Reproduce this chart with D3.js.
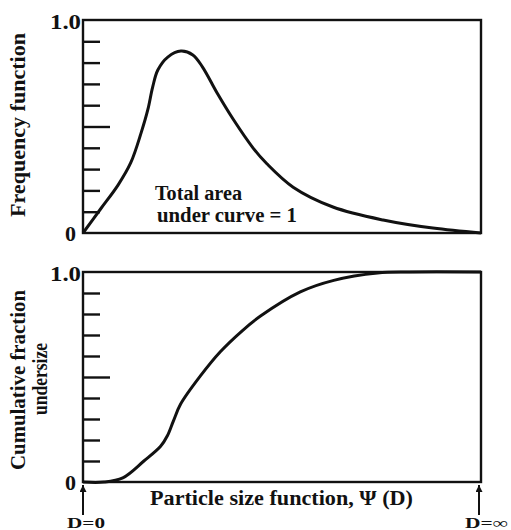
<!DOCTYPE html>
<html><head><meta charset="utf-8">
<script src="https://cdn.jsdelivr.net/npm/d3@7"></script>
<style>
body{margin:0;background:#fff;}
svg text{font-family:"Liberation Serif","Times New Roman",serif;font-weight:bold;fill:#111;}
</style></head>
<body><svg id="c" width="511" height="530"></svg>
<script>
// Top panel: frequency function (x = normalized particle size function)
const freqX = [0, 0.045, 0.088, 0.12, 0.146, 0.163, 0.175, 0.188, 0.213, 0.246, 0.276, 0.30, 0.337, 0.377, 0.427, 0.462, 0.528, 0.628, 0.754, 0.879, 1.0];
const freqY = [0, 0.115, 0.225, 0.33, 0.47, 0.58, 0.685, 0.765, 0.826, 0.854, 0.836, 0.78, 0.657, 0.535, 0.40, 0.325, 0.215, 0.122, 0.061, 0.023, 0];
// Bottom panel: cumulative fraction undersize
const cumX = [0, 0.053, 0.10, 0.153, 0.195, 0.212, 0.227, 0.245, 0.295, 0.345, 0.40, 0.446, 0.546, 0.63, 0.74, 0.82, 1.0];
const cumY = [0, 0, 0.02, 0.10, 0.17, 0.22, 0.29, 0.37, 0.505, 0.62, 0.72, 0.79, 0.905, 0.96, 0.995, 1.0, 1.0];
const minorTicks = [0.1, 0.2, 0.3, 0.4, 0.5, 0.6, 0.7, 0.8, 0.9];
const tickLabels = [{v: 0, t: "0"}, {v: 1, t: "1.0"}];

const svg = d3.select("#c");
const x = d3.scaleLinear().domain([0, 1]).range([83, 481]);

function panel(top, bottom, xs, ys) {
  const y = d3.scaleLinear().domain([0, 1]).range([bottom, top]);
  const g = svg.append("g");
  g.append("rect").attr("x", x(0)).attr("y", y(1)).attr("width", x(1) - x(0)).attr("height", y(0) - y(1))
    .attr("fill", "none").attr("stroke", "#111").attr("stroke-width", 2.4);
  const ax = d3.axisRight(y).tickValues(minorTicks).tickSize(17).tickFormat("");
  const ag = g.append("g").attr("transform", `translate(${x(0)},0)`).call(ax);
  ag.select(".domain").remove();
  ag.selectAll(".tick line").attr("stroke", "#111").attr("stroke-width", 2.4)
    .attr("x2", d => d === 0.5 ? 27 : 17);
  const al = d3.axisLeft(y).tickValues(tickLabels.map(d => d.v)).tickSize(0)
    .tickFormat(v => tickLabels.find(d => d.v === v).t);
  const lg = g.append("g").attr("transform", `translate(${x(0)},0)`).call(al);
  lg.select(".domain").remove();
  lg.selectAll(".tick text").attr("font-family", "Liberation Serif").attr("font-weight", "bold")
    .attr("font-size", 21).attr("fill", "#111")
    .attr("x", d => d === 1 ? -2 : -7).attr("dy", d => d === 1 ? 8 : 7)
    .attr("textLength", d => d === 1 ? 31 : 11).attr("lengthAdjust", "spacingAndGlyphs");
  const line = d3.line().x(i => x(xs[i])).y(i => y(ys[i])).curve(d3.curveCatmullRom.alpha(0.5));
  g.append("path").attr("d", line(d3.range(xs.length))).attr("fill", "none")
    .attr("stroke", "#111").attr("stroke-width", 3).attr("stroke-linejoin", "round");
  return y;
}

const y1 = panel(20, 233, freqX, freqY);
const y2 = panel(272, 482, cumX, cumY);

function txt(s, xp, yp, size, len, rot) {
  const t = svg.append("text").attr("font-size", size)
    .attr("textLength", len).attr("lengthAdjust", "spacingAndGlyphs").text(s);
  if (rot) {
    t.attr("text-anchor", "middle").attr("transform", `translate(${xp},${yp}) rotate(-90)`);
  } else {
    t.attr("x", xp).attr("y", yp);
  }
  return t;
}

txt("Frequency function", 25, 125, 20, 184, true);
txt("Cumulative fraction", 25, 380, 20, 180, true);
txt("undersize", 47, 379, 21, 72, true);
txt("Total area", 155, 200, 20, 87);
txt("under curve = 1", 157, 222, 20, 140);
txt("Particle size function, \u03A8 (D)", 150, 505, 20, 263);
txt("D=0", 67, 528, 15, 38);
txt("D=\u221E", 465, 528, 15, 43);

const defs = svg.append("defs");
defs.append("marker").attr("id", "ah").attr("viewBox", "0 0 10 10").attr("refX", 10).attr("refY", 5)
  .attr("markerWidth", 11).attr("markerHeight", 7).attr("markerUnits", "userSpaceOnUse").attr("orient", "auto")
  .append("path").attr("d", "M0,0 L10,5 L0,10 Z").attr("fill", "#111");
[0, 1].forEach(v => {
  const xp = x(v) - (v ? 2 : 0);
  svg.append("line").attr("x1", xp).attr("x2", xp).attr("y1", 515).attr("y2", 485)
    .attr("stroke", "#111").attr("stroke-width", 2).attr("marker-end", "url(#ah)");
});
</script></body></html>
